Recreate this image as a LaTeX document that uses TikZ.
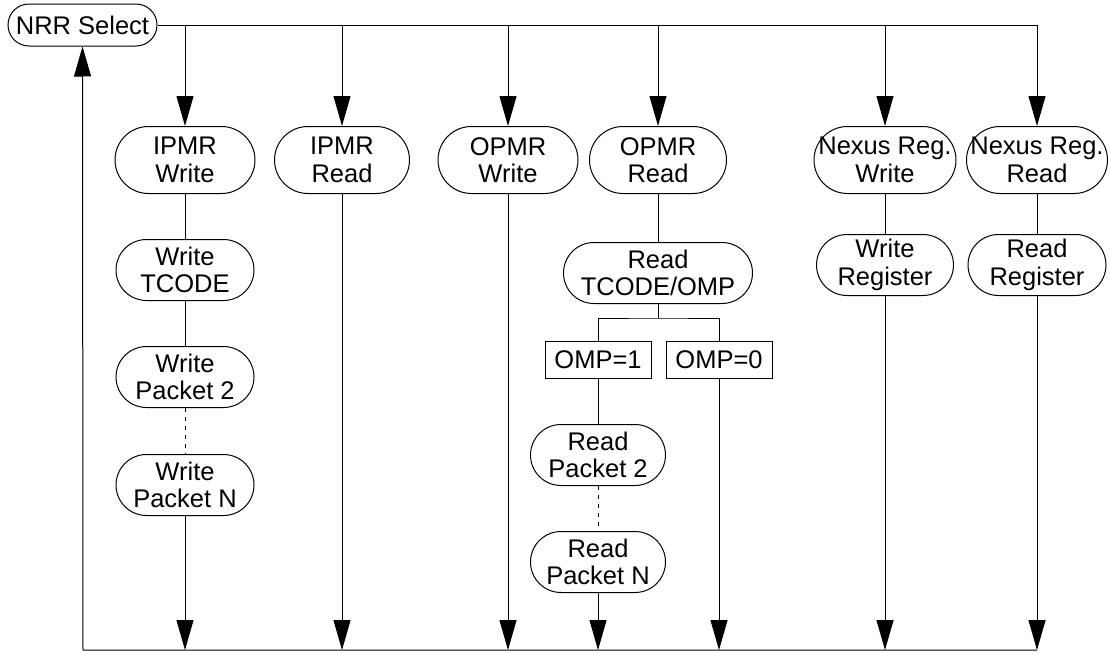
\documentclass[tikz,border=0pt]{standalone}
\usepackage{fontspec}
\setmainfont{Liberation Sans}
\usetikzlibrary{arrows.meta}
\begin{document}
\begin{tikzpicture}[x=1pt,y=-1pt,line width=1pt,
  every node/.style={font=\fontsize{25.5}{27.5}\selectfont, align=center, inner sep=0pt},
  tallpill/.style={draw, rectangle, rounded corners=33.5pt, minimum height=67pt},
  pill/.style={draw, rectangle, rounded corners=30.5pt, minimum height=61pt},
  startpill/.style={draw, rectangle, rounded corners=21pt, minimum height=42pt},
  flagbox/.style={draw, rectangle, minimum width=106pt, minimum height=37pt},
  arr/.style={-{Triangle[length=30pt,width=17pt]}},
  dotted link/.style={dash pattern=on 4pt off 5pt}]
\useasboundingbox (0,0) rectangle (1110,653);

% start node
\node[startpill, minimum width=149pt] (nrr) at (82.5,25) {NRR Select};

% first row: one request per column
\node[tallpill, minimum width=140pt] (ipw) at (185,160) {IPMR\\Write};
\node[tallpill, minimum width=135pt] (ipr) at (342,160) {IPMR\\Read};
\node[tallpill, minimum width=140pt] (opw) at (508,160) {OPMR\\Write};
\node[tallpill, minimum width=137pt] (opr) at (658,160) {OPMR\\Read};
\node[tallpill, minimum width=142pt] (nxw) at (885,160) {Nexus Reg.\\Write};
\node[tallpill, minimum width=141pt] (nxr) at (1037,160) {Nexus Reg.\\Read};

% IPMR write sequence
\node[pill, minimum width=138pt] (wtc) at (185,270) {Write\\TCODE};
\node[pill, minimum width=138pt] (wp2) at (185,377) {Write\\Packet 2};
\node[pill, minimum width=138pt] (wpn) at (185,485) {Write\\Packet N};

% OPMR read sequence
\node[pill, minimum width=189pt] (rtc) at (658,273) {Read\\TCODE/OMP};
\node[flagbox] (omp1) at (598,360) {OMP=1};
\node[flagbox] (omp0) at (719,360) {OMP=0};
\node[pill, minimum width=135pt] (rp2) at (598,455) {Read\\Packet 2};
\node[pill, minimum width=135pt] (rpn) at (598,562) {Read\\Packet N};

% register accesses
\node[pill, minimum width=137pt] (wrg) at (885,265) {Write\\Register};
\node[pill, minimum width=138pt] (rrg) at (1037,265) {Read\\Register};

% bus levels
\coordinate (top) at (0,25);
\coordinate (bot) at (83,650);
\coordinate (br) at (658,318);

% distribution bus from NRR Select
\draw[arr] (nrr.east) -- (nxr.north |- top) -- (nxr.north);
\foreach \n in {ipw,ipr,opw,opr,nxw}
  \draw[arr] (\n.north |- top) -- (\n.north);

% IPMR write chain
\draw (ipw) -- (wtc);
\draw (wtc) -- (wp2);
\draw[dotted link] (wp2) -- (wpn);

% OPMR read chain
\draw (opr) -- (rtc);
\draw (rtc) -- (br);
\draw (omp1.north) |- (br) -| (omp0.north);
\draw (omp1) -- (rp2);
\draw[dotted link] (rp2) -- (rpn);

% register chains
\draw (nxw) -- (wrg);
\draw (nxr) -- (rrg);

% return paths to the bottom bus
\foreach \n in {wpn,ipr,opw,rpn,omp0,wrg}
  \draw[arr] (\n.south) -- (\n.south |- bot);
\draw[arr] (rrg.south) -- (rrg.south |- bot);
\draw[arr] (rrg.south |- bot) -- (bot) -- (nrr.south);
\end{tikzpicture}
\end{document}
